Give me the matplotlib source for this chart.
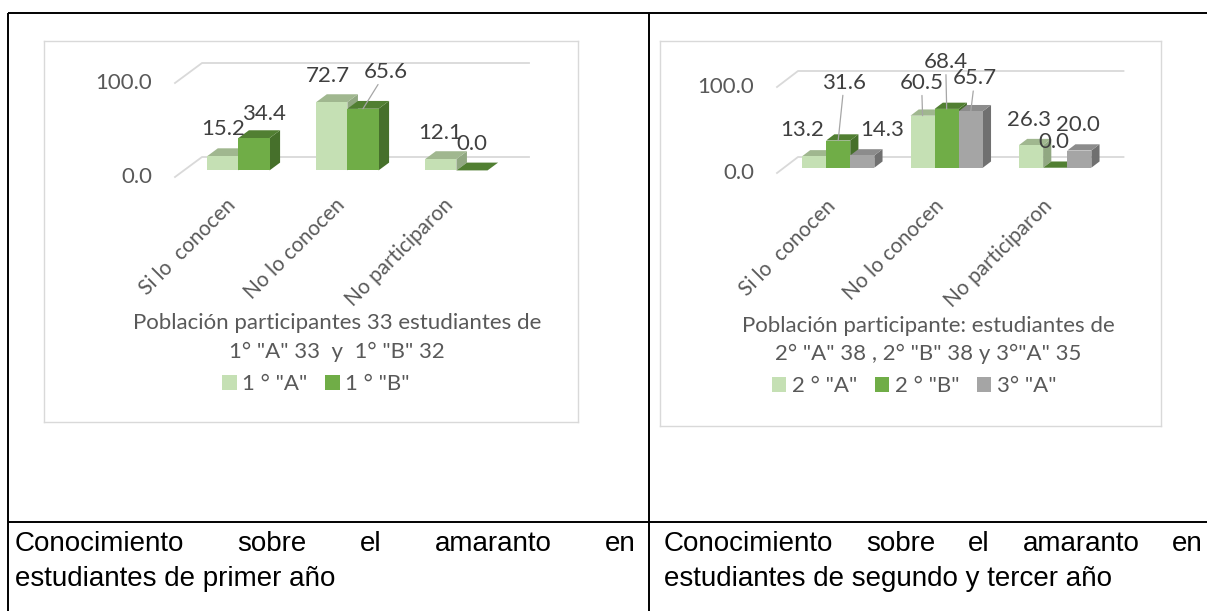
import matplotlib
matplotlib.use("Agg")
import matplotlib.pyplot as plt
from matplotlib.patches import Polygon, Patch

# Datos de las dos graficas
categorias = ["Si lo  conocen", "No lo conocen", "No participaron"]
ticks_valor = [0, 100]

series_1 = ['1 ° "A"', '1 ° "B"']
primero_a = [15.2, 72.7, 12.1]
primero_b = [34.4, 65.6, 0.0]

series_2 = ['2 ° "A"', '2 ° "B"', '3° "A"']
segundo_a = [13.2, 60.5, 26.3]
segundo_b = [31.6, 68.4, 0.0]
tercero_a = [14.3, 65.7, 20.0]

titulo_1 = ['Población participantes 33 estudiantes de', '1° "A" 33  y  1° "B" 32']
titulo_2 = ['Población participante: estudiantes de', '2° "A" 38 , 2° "B" 38 y 3°"A" 35']

pie_1 = ["Conocimiento sobre el amaranto en", "estudiantes de primer año"]
pie_2 = ["Conocimiento sobre el amaranto en", "estudiantes de segundo y tercer año"]

W, H = 1207, 611
GRIS_TXT = "#595959"
GRIS_DATO = "#404040"
LINEA = "#d9d9d9"
TAM = 16

# frente, cara superior, cara lateral
c_claro = ("#c5e0b4", "#a0b78f", "#91a882")
c_verde = ("#70ad47", "#517f32", "#46702b")
c_gris = ("#a5a5a5", "#8c8c8c", "#707070")

plt.rcParams['font.family'] = ['Lato', 'DejaVu Sans']

fig = plt.figure(figsize=(W / 100, H / 100), dpi=100)
fondo = fig.add_axes([0, 0, 1, 1])
fondo.set_xlim(0, W)
fondo.set_ylim(H, 0)
fondo.axis('off')


def grafica(caja, origen, ancho_cat, escala, prof, valores, nombres, colores,
            mov_etiquetas, mov_cat, centro_titulo, ys_titulo, titulo, leyenda):
    izq, arr, der, aba = caja
    ox, oy = origen
    pdx, pdy = prof
    zb, zd = 0.33, 0.39  # posicion y fondo de las barras dentro de la profundidad
    bx, by = ox + zb * pdx, oy - zb * pdy

    ax = fig.add_axes([izq / W, 1 - aba / H, (der - izq) / W, (aba - arr) / H])
    ax.set_facecolor('none')
    ax.set_xlim((izq - bx) / ancho_cat, (der - bx) / ancho_cat)
    ax.set_ylim((by - aba) / escala, (by - arr) / escala)
    ax.set_xticks([])
    ax.set_yticks([])
    for s in ax.spines.values():
        s.set_color(LINEA)
        s.set_linewidth(1.0)

    Dx, Dy = pdx / ancho_cat, pdy / escala
    fx, fy = -zb * Dx, -zb * Dy
    ncat = len(categorias)

    # lineas de division (plano del fondo)
    for v in ticks_valor:
        ax.plot([fx, fx + Dx, fx + Dx + ncat], [v + fy, v + fy + Dy, v + fy + Dy],
                color=LINEA, lw=1.3, zorder=1)
        ax.annotate(f"{v:.1f}", (fx, v + fy), xytext=(-23, 0), textcoords='offset pixels',
                    ha='right', va='center', fontsize=TAM, color=GRIS_TXT)

    for i, cat in enumerate(categorias):
        ax.annotate(cat, (i + 0.5 + fx, fy), xytext=mov_cat, textcoords='offset pixels',
                    rotation=45, rotation_mode='anchor', ha='right', va='center',
                    fontsize=15, color=GRIS_TXT)

    n = len(valores)
    w = 1 / (n + 1.5)
    ddx, ddy = zd * Dx, zd * Dy
    for s, vals in enumerate(valores):
        xs = [i + 0.5 + (s - (n - 1) / 2) * w for i in range(ncat)]
        frente, arriba, lado = colores[s]
        barras = ax.bar(xs, vals, width=w, color=frente, linewidth=0, zorder=5 + 3 * s + 2)
        for i, r in enumerate(barras):
            xl, v = r.get_x(), r.get_height()
            ax.add_patch(Polygon([(xl, v), (xl + w, v), (xl + w + ddx, v + ddy), (xl + ddx, v + ddy)],
                                 closed=True, facecolor=arriba, edgecolor='none', zorder=5 + 3 * s + 1))
            ax.add_patch(Polygon([(xl + w, 0), (xl + w, v), (xl + w + ddx, v + ddy), (xl + w + ddx, ddy)],
                                 closed=True, facecolor=lado, edgecolor='none', zorder=5 + 3 * s))
            dx, dy, guia = mov_etiquetas.get((s, i), (0, 26, False))
            props = dict(arrowstyle='-', color='#a6a6a6', lw=0.9, shrinkA=0, shrinkB=0) if guia else None
            ax.annotate(f"{v:.1f}", (xl + w / 2, v), xytext=(dx, dy), textcoords='offset pixels',
                        ha='center', va='center', fontsize=TAM, color=GRIS_DATO,
                        arrowprops=props, zorder=30)

    for linea, y in zip(titulo, ys_titulo):
        fondo.text(centro_titulo, y, linea, ha='center', va='center', fontsize=TAM, color=GRIS_TXT)

    manijas = [Patch(facecolor=c[0], edgecolor='none') for c in colores]
    ax.legend(manijas, nombres, loc='center', bbox_to_anchor=(leyenda[0] / W, 1 - leyenda[1] / H),
              bbox_transform=fig.transFigure, ncol=n, frameon=False, fontsize=TAM,
              handlelength=0.65, handleheight=0.65, handletextpad=0.25, columnspacing=0.8,
              labelcolor=GRIS_TXT, borderpad=0)


mov_1 = {(0, 0): (0, 27, False), (1, 0): (10, 24, False), (0, 1): (-4, 26, False),
         (1, 1): (23, 37, True), (0, 2): (-1, 26, False), (1, 2): (0, 26, False)}
mov_2 = {(0, 0): (-12, 26, False), (1, 0): (6, 58, True), (2, 0): (20, 25, False),
         (0, 1): (-1, 33, True), (1, 1): (-1, 47, True), (2, 1): (4, 33, True),
         (0, 2): (-2, 25, False), (1, 2): (-1, 26, False), (2, 2): (-1, 26, False)}

grafica((44, 41, 578, 422), (175, 177), 109, 0.94, (27, 20),
        [primero_a, primero_b], series_1, [c_claro, c_verde], mov_1, (3, -25),
        337, (323, 352), titulo_1, (316, 384))
grafica((660, 41, 1161, 426), (777, 173), 108.5, 0.86, (21, 16),
        [segundo_a, segundo_b, tercero_a], series_2, [c_claro, c_verde, c_gris], mov_2, (1, -30),
        928, (326, 354), titulo_2, (914, 386))

# tabla del documento
kw_linea = dict(color='black', lw=1.4, solid_capstyle='butt')
fondo.plot([8, W], [12.5, 12.5], **kw_linea)
fondo.plot([8, 8], [12.5, H], **kw_linea)
fondo.plot([649, 649], [12.5, H], **kw_linea)
fondo.plot([8, W], [522, 522], **kw_linea)

# pies de figura, primera linea justificada
rend = fig.canvas.get_renderer()
kw_pie = dict(fontsize=20, family='Liberation Sans', color='black', va='baseline')


def justificar(linea, x0, x1, y):
    palabras = linea.split()
    textos = [fondo.text(x0, y, p, **kw_pie) for p in palabras]
    anchos = [t.get_window_extent(rend).width for t in textos]
    hueco = (x1 - x0 - sum(anchos)) / (len(palabras) - 1)
    x = x0
    for t, a in zip(textos, anchos):
        t.set_x(x)
        x += a + hueco


for pie, x0, x1 in [(pie_1, 15, 636), (pie_2, 664, 1203)]:
    justificar(pie[0], x0, x1, 551)
    fondo.text(x0, 586, pie[1], **kw_pie)

fig.savefig("out.png", dpi=100)
